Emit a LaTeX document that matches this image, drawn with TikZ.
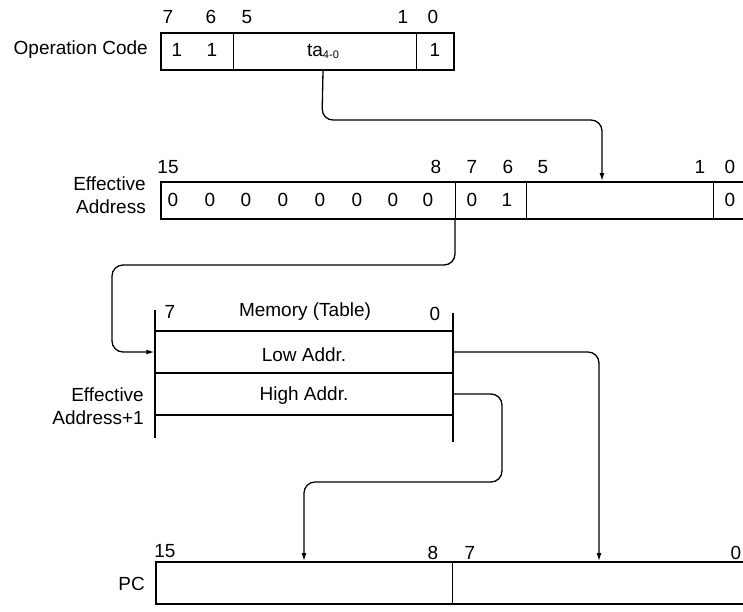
\documentclass[tikz,border=0pt]{standalone}
\usepackage{fontspec}
\setmainfont{Liberation Sans}
\usetikzlibrary{arrows.meta,calc}

\begin{document}
\begin{tikzpicture}[x=1pt, y=-1pt,
  reg/.style={draw, line width=2pt, anchor=north west, inner sep=0pt,
    minimum height=37pt},
  row/.style={draw, line width=1.3pt, inner sep=0pt,
    minimum width=298pt, minimum height=42pt},
  cell/.style={font=\fontsize{19}{23}\selectfont, inner sep=0pt},
  lbl/.style={cell, anchor=east, align=right},
  div/.style={line width=1pt},
  rail/.style={line width=2pt},
  wire/.style={line width=1.3pt, rounded corners=11pt},
  arr/.style={wire, -{Latex[length=8pt,width=5pt]}},
]
\useasboundingbox (0,0) rectangle (743,611);

% operation code
\node[lbl] (opclbl) at (148,50) {Operation Code};
\node[reg, minimum width=293pt] (opc) at (160,32) {};
\draw[div] (233,32) -- (233,69);
\draw[div] (416,32) -- (416,69);
\node[cell] at (168,17) {7};
\node[cell] at (211,17) {6};
\node[cell] at (247,17) {5};
\node[cell] at (403,17) {1};
\node[cell] at (433,17) {0};
\node[cell] (opb7) at (177,50) {1};
\node[cell] (opb6) at (212,50) {1};
\node[cell] (ta) at (323,51) {ta\raisebox{-2pt}{\fontsize{11}{12}\selectfont 4-0}};
\node[cell] (opb0) at (435,50) {1};

% effective address
\node[lbl] (ealbl) at (146,195) {Effective\\Address};
\node[reg, minimum width=600pt] (ea) at (160,181) {};
\draw[div] (455,181) -- (455,218);
\draw[div] (526,181) -- (526,218);
\draw[div] (713,181) -- (713,218);
\foreach \x/\b in {168/15, 436/8, 472/7, 508/6, 543/5, 700/1, 730/0}
  \node[cell] at (\x,167) {\b};
\foreach \x in {173,210,246,283,320,357,393,428}
  \node[cell] at (\x,200) {0};
\node[cell] (eab7) at (472,200) {0};
\node[cell] (eab6) at (507,200) {1};
\node[cell] (eab0) at (730,200) {0};
\coordinate (eain) at (602,181);
\coordinate (eaout) at (455,218);

% memory table
\node[row] (low) at (304,352) {};
\node[row] (high) at (304,394) {};
\node[cell] at (304,355) {Low Addr.};
\node[cell] at (304,396) {High Addr.};
\draw[rail] (155,310) -- (155,438);
\draw[rail] (453,313) -- (453,442);
\node[cell] at (170,312) {7};
\node[cell] (memhead) at (305,312) {Memory (Table)};
\node[cell] at (435,314) {0};
\node[lbl] (memlbl) at (144,406) {Effective\\Address+1};

% program counter
\node[lbl] (pclbl) at (145,584) {PC};
\node[reg, minimum height=42pt, minimum width=600pt] (pc) at (155,561) {};
\draw[div] (452,561) -- (452,603);
\node[cell] at (165,551) {15};
\node[cell] at (433,553) {8};
\node[cell] at (470,553) {7};
\node[cell] at (736,553) {0};
\coordinate (pchi) at (304,561);
\coordinate (pclo) at (599,561);

% connectors
\draw[arr] (ta |- opc.south) -- (322,120) -- (602,120) -- (eain);
\draw[arr] (eaout) -- (455,265) -- (112,265) -- (112,352) -- (low.west);
\draw[arr] (low.east) -- (599,352) -- (pclo);
\draw[arr] (high.east) -- (502,394) -- (502,482) -- (304,482) -- (pchi);

\end{tikzpicture}
\end{document}
